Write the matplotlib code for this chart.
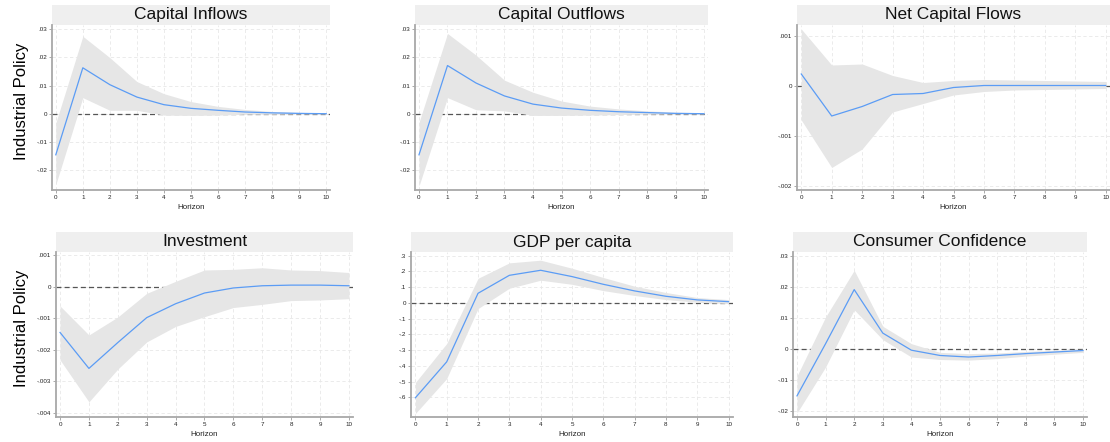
import matplotlib
matplotlib.use("Agg")
import matplotlib.pyplot as plt
from matplotlib.patches import Rectangle

plt.rcParams['font.family'] = ['Liberation Sans', 'DejaVu Sans']

horizon = list(range(11))

titles = ["Capital Inflows", "Capital Outflows", "Net Capital Flows",
          "Investment", "GDP per capita", "Consumer Confidence"]

# impulse responses (point estimate, upper and lower band)
infl_irf = [-0.0146, 0.0163, 0.0103, 0.0059, 0.0032, 0.0019, 0.0012, 0.0006, 0.0003, 0.0001, 0.0]
infl_hi = [-0.0033, 0.0275, 0.0199, 0.0114, 0.0071, 0.0043, 0.0026, 0.0015, 0.0008, 0.0005, 0.0002]
infl_lo = [-0.0252, 0.0057, 0.0012, 0.0012, -0.0005, -0.0006, -0.0005, -0.0002, -0.0002, -0.0001, -0.0001]

outf_irf = [-0.0146, 0.0171, 0.0109, 0.0063, 0.0034, 0.0020, 0.0012, 0.0007, 0.0004, 0.0001, 0.0]
outf_hi = [-0.0031, 0.0285, 0.0208, 0.0119, 0.0076, 0.0045, 0.0027, 0.0017, 0.0010, 0.0006, 0.0003]
outf_lo = [-0.0257, 0.0057, 0.0014, 0.0010, -0.0006, -0.0006, -0.0005, -0.0003, -0.0002, -0.0001, -0.0001]

net_irf = [0.00024, -0.00060, -0.00041, -0.00017, -0.00015, -0.00003, 0.00001, 0.00001, 0.00001, 0.00001, 0.00001]
net_hi = [0.00114, 0.00042, 0.00044, 0.00021, 0.00007, 0.00011, 0.00013, 0.00012, 0.00011, 0.00010, 0.00009]
net_lo = [-0.00068, -0.00163, -0.00126, -0.00052, -0.00035, -0.00018, -0.00011, -0.00008, -0.00007, -0.00006, -0.00005]

inv_irf = [-0.00145, -0.00259, -0.00177, -0.00098, -0.00054, -0.00020, -0.00004, 0.00003, 0.00005, 0.00005, 0.00003]
inv_hi = [-0.00061, -0.00153, -0.00096, -0.00021, 0.00017, 0.00053, 0.00055, 0.00060, 0.00053, 0.00051, 0.00045]
inv_lo = [-0.00232, -0.00365, -0.00261, -0.00175, -0.00126, -0.00095, -0.00066, -0.00056, -0.00044, -0.00042, -0.00038]

gdp_irf = [-0.602, -0.374, 0.061, 0.175, 0.207, 0.167, 0.118, 0.076, 0.042, 0.019, 0.008]
gdp_hi = [-0.505, -0.258, 0.156, 0.254, 0.271, 0.220, 0.161, 0.106, 0.066, 0.034, 0.021]
gdp_lo = [-0.702, -0.480, -0.036, 0.093, 0.144, 0.118, 0.078, 0.047, 0.021, 0.004, -0.004]

conf_irf = [-0.0150, 0.0018, 0.0192, 0.0052, -0.0003, -0.0020, -0.0025, -0.0020, -0.0014, -0.0009, -0.0004]
conf_hi = [-0.0086, 0.0104, 0.0254, 0.0074, 0.0018, -0.0010, -0.0014, -0.0012, -0.0007, -0.0003, 0.0]
conf_lo = [-0.0205, -0.0057, 0.0127, 0.0031, -0.0025, -0.0033, -0.0035, -0.0030, -0.0022, -0.0016, -0.0010]

irfs = [infl_irf, outf_irf, net_irf, inv_irf, gdp_irf, conf_irf]
his = [infl_hi, outf_hi, net_hi, inv_hi, gdp_hi, conf_hi]
los = [infl_lo, outf_lo, net_lo, inv_lo, gdp_lo, conf_lo]

yticks = [
    [-0.02, -0.01, 0, 0.01, 0.02, 0.03],
    [-0.02, -0.01, 0, 0.01, 0.02, 0.03],
    [-0.002, -0.001, 0, 0.001],
    [-0.004, -0.003, -0.002, -0.001, 0, 0.001],
    [-0.6, -0.5, -0.4, -0.3, -0.2, -0.1, 0, 0.1, 0.2, 0.3],
    [-0.02, -0.01, 0, 0.01, 0.02, 0.03],
]
ylabels = [
    ["-.02", "-.01", "0", ".01", ".02", ".03"],
    ["-.02", "-.01", "0", ".01", ".02", ".03"],
    ["-.002", "-.001", "0", ".001"],
    ["-.004", "-.003", "-.002", "-.001", "0", ".001"],
    ["-.6", "-.5", "-.4", "-.3", "-.2", "-.1", "0", ".1", ".2", ".3"],
    ["-.02", "-.01", "0", ".01", ".02", ".03"],
]
ylims = [(-0.0271, 0.0315), (-0.0271, 0.0315), (-0.00208, 0.00122),
         (-0.00413, 0.0011), (-0.724, 0.323), (-0.0218, 0.0313)]

W, H = 1110, 442
# panel boxes in pixels: left, right, top, bottom
boxes = [(52, 330, 25, 190), (415, 708, 25, 190), (797, 1110, 25, 190),
         (56, 353, 252, 417), (411, 733, 252, 417), (793, 1087, 252, 417)]

fig = plt.figure(figsize=(W / 100, H / 100), dpi=100)

for i in range(6):
    l, r, t, b = boxes[i]
    ax = fig.add_axes([l / W, 1 - b / H, (r - l) / W, (b - t) / H])
    ax.set_xlim(-0.14, 10.14)
    ax.set_ylim(*ylims[i])

    ax.axhline(0, color="#555555", lw=0.9, ls=(0, (4, 2.5)), zorder=1)
    ax.fill_between(horizon, los[i], his[i], color="#e6e6e6", lw=0, zorder=2)
    ax.plot(horizon, irfs[i], color="#5b9cf5", lw=0.9, zorder=3)

    ax.set_xticks(horizon)
    ax.set_xticklabels([str(h) for h in horizon])
    ax.set_yticks(yticks[i])
    ax.set_yticklabels(ylabels[i])
    ax.tick_params(labelsize=4.5, length=2, width=0.5, pad=1.5, color="#888888",
                   labelcolor="#222222")
    ax.grid(True, color="#e8e8e8", lw=0.6, ls=(0, (4, 3)), zorder=0)
    ax.set_axisbelow(True)

    for s in ["top", "right"]:
        ax.spines[s].set_visible(False)
    for s in ["left", "bottom"]:
        ax.spines[s].set_color("#a8a8a8")
        ax.spines[s].set_linewidth(1.3)

    ax.set_xlabel("Horizon", fontsize=5.8, labelpad=3, color="#222222")
    if i % 3 == 0:
        ax.set_ylabel("Industrial Policy", fontsize=12)
        ax.yaxis.set_label_coords((29 - l) / (r - l), 0.54)

    hbox = 20 / (b - t)
    ax.add_patch(Rectangle((0, 1), 1, hbox, transform=ax.transAxes,
                           facecolor="#efefef", edgecolor="none", clip_on=False))
    ax.text(0.5, 1 + hbox / 2, titles[i], transform=ax.transAxes, ha="center",
            va="center", fontsize=12.5, color="#111111")

fig.savefig("out.png", dpi=100)
